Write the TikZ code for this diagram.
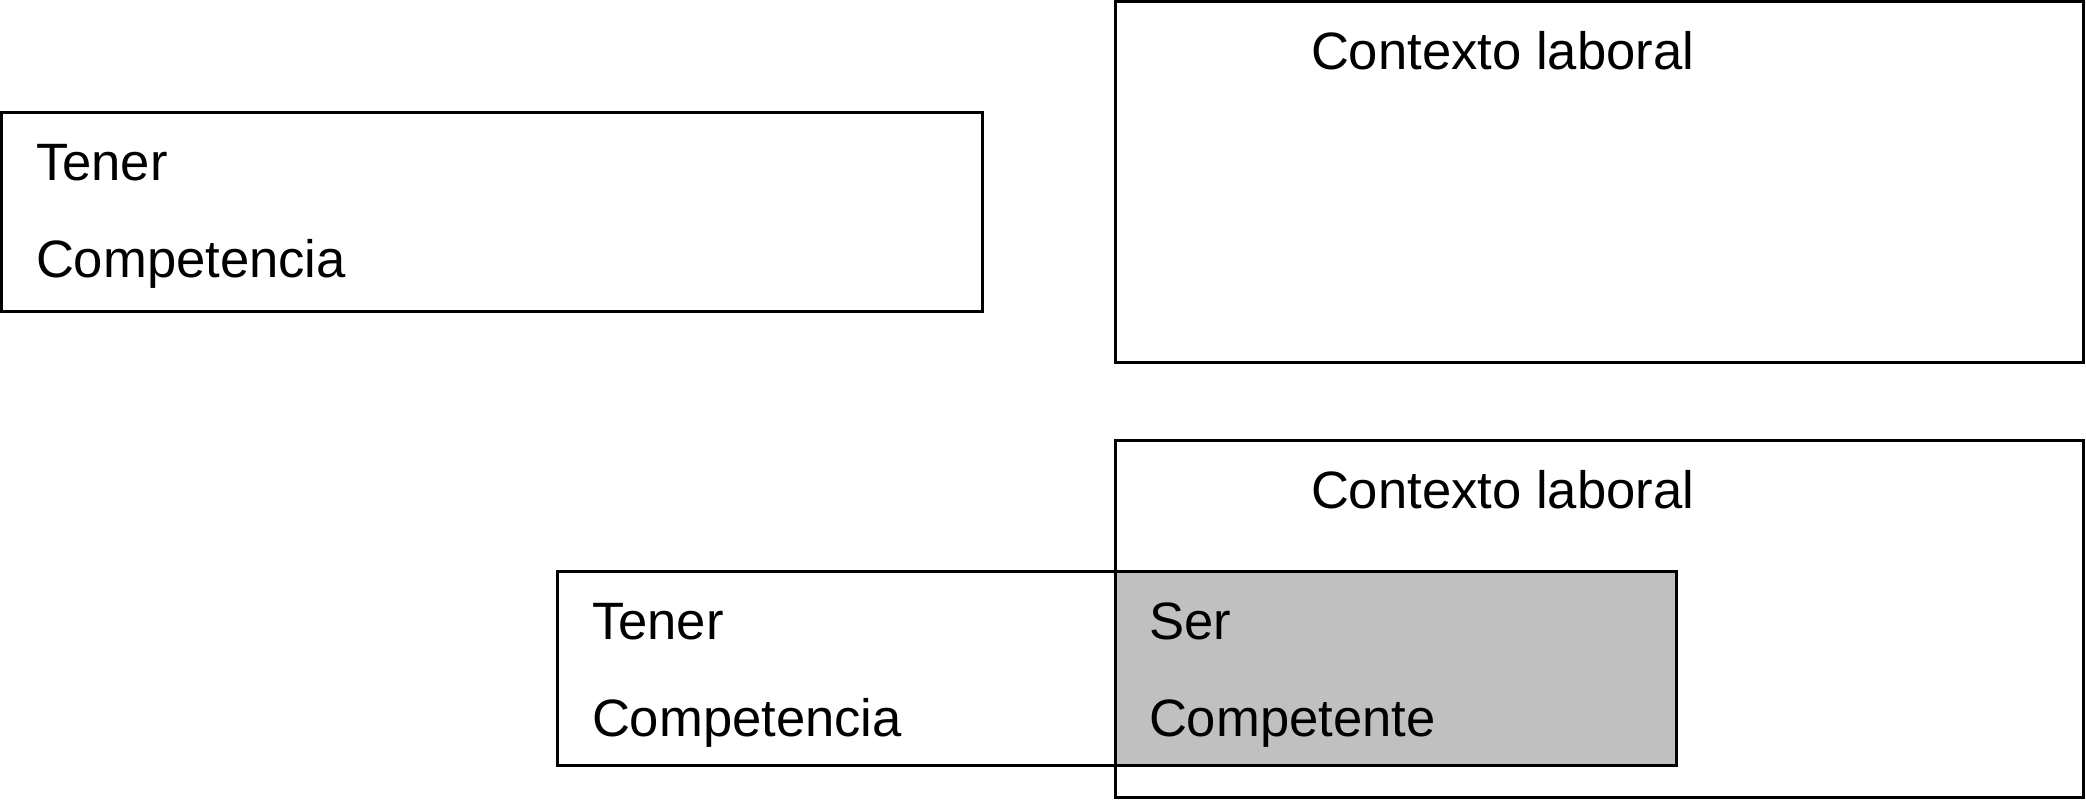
\documentclass[tikz,border=0pt]{standalone}
\usepackage{fontspec}
\setmainfont{Liberation Sans}
\begin{document}
\begin{tikzpicture}[x=1pt,y=-1pt,
  box/.style={draw=black, line width=3pt, inner sep=0pt, outer sep=0pt, anchor=north west, rectangle},
  lbl/.style={inner sep=0pt, outer sep=0pt, anchor=base west, font=\fontsize{52.6}{60}\selectfont}]
\useasboundingbox (0,0) rectangle (2086,800);
% top row
\node[box, minimum width=980.5pt, minimum height=199pt] (tenerA) at (1.5,112) {};
\node[box, minimum width=968pt, minimum height=360.5pt] (ctxA) at (1115,1.5) {};
\node[lbl] (tA1) at (36,180) {Tener};
\node[lbl] (tA2) at (36,277) {Competencia};
\node[lbl] (cA) at (1311,70) {Contexto laboral};
% bottom row
\node[box, minimum width=968pt, minimum height=357pt] (ctxB) at (1115,440) {};
\node[box, minimum width=1119pt, minimum height=194pt] (tenerB) at (557,571) {};
\node[box, fill={rgb,255:red,192;green,192;blue,192}, minimum width=561pt, minimum height=194pt] (ser) at (1115,571) {};
\node[lbl] (cB) at (1311,508) {Contexto laboral};
\node[lbl] (tB1) at (592,639) {Tener};
\node[lbl] (tB2) at (592,736) {Competencia};
\node[lbl] (sB1) at (1149,639) {Ser};
\node[lbl] (sB2) at (1149,736) {Competente};
\end{tikzpicture}
\end{document}
